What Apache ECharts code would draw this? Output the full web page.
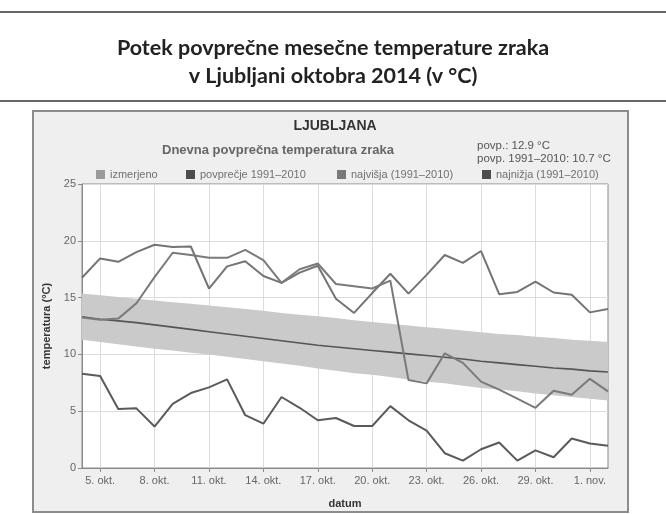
<!DOCTYPE html>
<html><head><meta charset="utf-8">
<script src="https://cdn.jsdelivr.net/npm/echarts@6/dist/echarts.min.js"></script>
<style>html,body{margin:0;padding:0;background:#fff;}#c{width:666px;height:514px;}</style>
</head><body><div id="c"></div>
<script>
const dates = ['4. okt.','5. okt.','6. okt.','7. okt.','8. okt.','9. okt.','10. okt.','11. okt.','12. okt.','13. okt.','14. okt.','15. okt.','16. okt.','17. okt.','18. okt.','19. okt.','20. okt.','21. okt.','22. okt.','23. okt.','24. okt.','25. okt.','26. okt.','27. okt.','28. okt.','29. okt.','30. okt.','31. okt.','1. nov.','2. nov.'];
const izmerjeno = [13.25,13.05,13.15,14.5,16.8,18.95,18.75,18.5,18.5,19.2,18.3,16.3,17.5,18.0,16.2,16.0,15.8,16.5,7.75,7.45,10.1,9.25,7.6,6.9,6.1,5.3,6.8,6.45,7.85,6.75];
const povprecje = [13.3,13.1,12.95,12.8,12.6,12.4,12.2,12.0,11.8,11.6,11.4,11.2,11.0,10.8,10.65,10.5,10.35,10.2,10.05,9.9,9.75,9.6,9.4,9.25,9.1,8.95,8.8,8.7,8.55,8.45];
const najvisja = [16.75,18.45,18.15,19.0,19.65,19.45,19.5,15.8,17.75,18.2,16.9,16.3,17.2,17.8,14.9,13.65,15.4,17.1,15.35,17.0,18.75,18.05,19.1,15.3,15.5,16.4,15.45,15.25,13.7,14.0];
const najnizja = [8.3,8.1,5.2,5.25,3.65,5.65,6.6,7.1,7.8,4.65,3.9,6.25,5.3,4.2,4.4,3.7,3.7,5.45,4.2,3.3,1.3,0.65,1.65,2.25,0.65,1.55,0.95,2.6,2.15,1.95];
const pasZgoraj = [15.35,15.2,15.05,14.9,14.75,14.6,14.45,14.3,14.15,14.0,13.85,13.65,13.5,13.35,13.2,13.0,12.85,12.7,12.55,12.4,12.25,12.1,11.95,11.8,11.7,11.55,11.45,11.3,11.2,11.1];
const pasSpodaj = [11.3,11.1,10.9,10.7,10.5,10.35,10.15,10.0,9.8,9.6,9.4,9.2,9.0,8.75,8.55,8.35,8.2,8.0,7.8,7.6,7.45,7.25,7.05,6.9,6.75,6.55,6.4,6.25,6.1,5.95];
const yTicks = [0,5,10,15,20,25];

const bandDiff = pasZgoraj.map((v,i)=>+(v - pasSpodaj[i]).toFixed(2));
const F = 'Liberation Sans, Arial, sans-serif';
const showIdx = (i)=> i % 3 === 1;

const chart = echarts.init(document.getElementById('c'), null, {renderer:'canvas'});
function leg(name, color, left){
  return {show:true, left:left, top:164, icon:'rect', itemWidth:9, itemHeight:9, itemGap:0,
    textStyle:{fontFamily:F, fontSize:11, color:'#707070'}, selectedMode:false,
    data:[{name:name, itemStyle:{color:color}}]};
}
chart.setOption({
  animation:false,
  backgroundColor:'#fff',
  graphic:[
    {type:'line', shape:{x1:0,y1:12,x2:666,y2:12}, style:{stroke:'#333', lineWidth:1.5}},
    {type:'line', shape:{x1:0,y1:101,x2:666,y2:101}, style:{stroke:'#333', lineWidth:1.5}},
    {type:'rect', z:-10, shape:{x:33,y:111,width:595,height:401}, style:{fill:'#efefef', stroke:'#8c8c8c', lineWidth:2}}
  ],
  title:[
    {text:'Potek povprečne mesečne temperature zraka\nv Ljubljani oktobra 2014 (v °C)', left:'center', top:29,
     textStyle:{fontFamily:'Lato, sans-serif', fontWeight:'bold', fontSize:21.5, lineHeight:28, color:'#222'}},
    {text:'LJUBLJANA', left:330, textAlign:'center', top:114, textStyle:{fontFamily:F, fontWeight:'bold', fontSize:14, color:'#333'}},
    {text:'Dnevna povprečna temperatura zraka', left:273, textAlign:'center', top:139, textStyle:{fontFamily:F, fontWeight:'bold', fontSize:13, color:'#666'}},
    {text:'povp.: 12.9 °C\npovp. 1991–2010: 10.7 °C', left:472, top:134, textStyle:{fontFamily:F, fontWeight:'normal', fontSize:11.5, lineHeight:13, color:'#555'}}
  ],
  legend:[
    leg('izmerjeno','#9a9a9a',91),
    leg('povprečje 1991–2010','#4d4d4d',181),
    leg('najvišja (1991–2010)','#7a7a7a',332),
    leg('najnižja (1991–2010)','#4d4d4d',477)
  ],
  grid:{left:82, right:58, top:184, bottom:46, show:true, backgroundColor:'#fff', borderColor:'#8a8a8a', borderWidth:1},
  xAxis:{type:'category', data:dates, boundaryGap:false,
    name:'datum', nameLocation:'middle', nameGap:30, nameTextStyle:{fontFamily:F, fontWeight:'bold', fontSize:11, color:'#333'},
    axisLine:{lineStyle:{color:'#8a8a8a'}},
    axisTick:{show:true, interval:showIdx, length:4, lineStyle:{color:'#8a8a8a'}},
    axisLabel:{interval:showIdx, fontFamily:F, fontSize:11, color:'#666', margin:7},
    splitLine:{show:true, interval:showIdx, lineStyle:{color:'#dcdcdc'}}},
  yAxis:{type:'value', min:yTicks[0], max:yTicks[yTicks.length-1], interval:5,
    name:'temperatura (°C)', nameLocation:'middle', nameGap:29, nameTextStyle:{fontFamily:F, fontWeight:'bold', fontSize:11, color:'#333'},
    axisLine:{show:true, lineStyle:{color:'#8a8a8a'}},
    axisTick:{show:true, length:4, lineStyle:{color:'#8a8a8a'}},
    axisLabel:{fontFamily:F, fontSize:11, color:'#666', margin:6},
    splitLine:{show:true, lineStyle:{color:'#dcdcdc'}}},
  series:[
    {name:'pas_spodaj', type:'line', data:pasSpodaj, stack:'pas', symbol:'none', lineStyle:{opacity:0}, silent:true, z:1},
    {name:'pas', type:'line', data:bandDiff, stack:'pas', symbol:'none', lineStyle:{opacity:0}, areaStyle:{color:'#cacaca', opacity:1}, silent:true, z:1},
    {name:'povprečje 1991–2010', type:'line', data:povprecje, symbol:'none', lineStyle:{color:'#555', width:1.6}, itemStyle:{color:'#4d4d4d'}, z:3},
    {name:'najvišja (1991–2010)', type:'line', data:najvisja, symbol:'none', lineStyle:{color:'#747474', width:2}, itemStyle:{color:'#7a7a7a'}, z:4},
    {name:'najnižja (1991–2010)', type:'line', data:najnizja, symbol:'none', lineStyle:{color:'#5a5a5a', width:2}, itemStyle:{color:'#4d4d4d'}, z:4},
    {name:'izmerjeno', type:'line', data:izmerjeno, symbol:'none', lineStyle:{color:'#7a7a7a', width:2}, itemStyle:{color:'#9a9a9a'}, z:5}
  ]
});
</script></body></html>
